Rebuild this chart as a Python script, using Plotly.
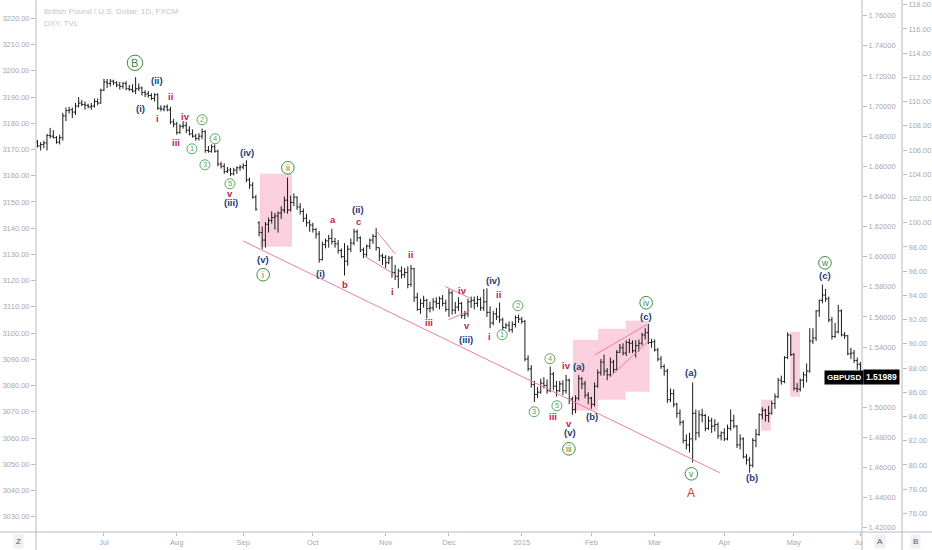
import math
from datetime import datetime, timedelta
import pandas as pd
import plotly.graph_objects as go

# ---------------- data ----------------
dates = [d.strftime("%Y-%m-%d") for d in pd.bdate_range("2014-06-02", "2015-06-01")]

opens = [
    # Jun 2014
    1.6760, 1.6735, 1.6745, 1.6755, 1.6805, 1.6800, 1.6790, 1.6760, 1.6790, 1.6935, 1.6970,
    1.6975, 1.6960, 1.7000, 1.7020, 1.7010, 1.7005, 1.6995, 1.7000, 1.7030, 1.7020,
    # Jul
    1.7105, 1.7160, 1.7150, 1.7165, 1.7155, 1.7140, 1.7130, 1.7150, 1.7115, 1.7110, 1.7100,
    1.7115, 1.7120, 1.7090, 1.7080, 1.7070, 1.7050, 1.7075, 1.6985, 1.6980, 1.6995, 1.6975, 1.6895,
    # Aug
    1.6880, 1.6825, 1.6865, 1.6870, 1.6840, 1.6815, 1.6800, 1.6785, 1.6800, 1.6830, 1.6705,
    1.6700, 1.6730, 1.6700, 1.6615, 1.6600, 1.6565, 1.6575, 1.6550, 1.6575, 1.6590,
    # Sep
    1.6595, 1.6605, 1.6510, 1.6475, 1.6395, 1.6225, 1.6160, 1.6110, 1.6215, 1.6240, 1.6260,
    1.6270, 1.6290, 1.6310, 1.6375, 1.6310, 1.6360, 1.6395, 1.6330, 1.6300, 1.6255, 1.6225,
    # Oct
    1.6210, 1.6180, 1.6150, 1.5980, 1.6080, 1.6105, 1.6120, 1.6100, 1.6085, 1.6040, 1.6000,
    1.5970, 1.6050, 1.6090, 1.6165, 1.6125, 1.6045, 1.6015, 1.6070, 1.6110, 1.6135, 1.6060, 1.6005,
    # Nov
    1.5995, 1.5960, 1.5990, 1.5895, 1.5870, 1.5905, 1.5880, 1.5895, 1.5815, 1.5920,
    1.5730, 1.5650, 1.5690, 1.5710, 1.5655, 1.5660, 1.5700, 1.5690, 1.5720, 1.5690,
    # Dec
    1.5650, 1.5760, 1.5645, 1.5665, 1.5690, 1.5610, 1.5620, 1.5700, 1.5710, 1.5690, 1.5715,
    1.5660, 1.5700, 1.5630, 1.5560, 1.5620, 1.5600, 1.5580, 1.5530, 1.5545, 1.5515, 1.5550, 1.5595,
    # Jan 2015
    1.5585, 1.5570, 1.5320, 1.5255, 1.5150, 1.5085, 1.5100, 1.5160, 1.5145, 1.5110, 1.5220,
    1.5140, 1.5110, 1.5155, 1.5110, 1.5180, 1.5055, 1.4985, 1.5060, 1.5190, 1.5155, 1.5080,
    # Feb
    1.5060, 1.5020, 1.5140, 1.5230, 1.5300, 1.5240, 1.5215, 1.5300, 1.5250, 1.5365,
    1.5395, 1.5360, 1.5430, 1.5425, 1.5375, 1.5410, 1.5425, 1.5480, 1.5495, 1.5430,
    # Mar
    1.5435, 1.5380, 1.5320, 1.5270, 1.5240, 1.5050, 1.5090, 1.5020, 1.4960, 1.4900, 1.4780,
    1.4750, 1.4790, 1.4960, 1.4830, 1.4950, 1.4945, 1.4860, 1.4910, 1.4875, 1.4885, 1.4810,
    # Apr
    1.4830, 1.4790, 1.4860, 1.4910, 1.4875, 1.4750, 1.4790, 1.4670, 1.4650, 1.4615, 1.4780,
    1.4820, 1.4950, 1.4980, 1.4945, 1.4960, 1.5025, 1.5070, 1.5180, 1.5170, 1.5330, 1.5480,
    # May + Jun 1
    1.5350, 1.5125, 1.5120, 1.5180, 1.5215, 1.5240, 1.5440, 1.5460, 1.5640, 1.5710, 1.5745,
    1.5720, 1.5580, 1.5470, 1.5500, 1.5640, 1.5480, 1.5475, 1.5355, 1.5360, 1.5310, 1.5285,
]

highs = [
    1.6775, 1.6760, 1.6770, 1.6815, 1.6855, 1.6840, 1.6800, 1.6810, 1.6955, 1.6990, 1.6995,
    1.6990, 1.7020, 1.7060, 1.7040, 1.7030, 1.7015, 1.7020, 1.7050, 1.7050, 1.7115,
    1.7180, 1.7180, 1.7180, 1.7175, 1.7165, 1.7160, 1.7160, 1.7165, 1.7140, 1.7145, 1.7192,
    1.7150, 1.7130, 1.7105, 1.7100, 1.7085, 1.7085, 1.7085, 1.7005, 1.7005, 1.7010, 1.6995, 1.6915,
    1.6895, 1.6880, 1.6900, 1.6895, 1.6865, 1.6845, 1.6815, 1.6820, 1.6850, 1.6840, 1.6735,
    1.6745, 1.6745, 1.6710, 1.6630, 1.6620, 1.6595, 1.6590, 1.6590, 1.6600, 1.6610,
    1.6620, 1.6640, 1.6525, 1.6495, 1.6410, 1.6235, 1.6200, 1.6230, 1.6260, 1.6300, 1.6290,
    1.6300, 1.6335, 1.6400, 1.6525, 1.6405, 1.6420, 1.6400, 1.6355, 1.6320, 1.6285, 1.6245,
    1.6225, 1.6190, 1.6170, 1.6100, 1.6120, 1.6145, 1.6185, 1.6125, 1.6110, 1.6055, 1.6090,
    1.6075, 1.6120, 1.6185, 1.6180, 1.6135, 1.6060, 1.6080, 1.6120, 1.6150, 1.6190, 1.6060, 1.6020,
    1.6010, 1.6005, 1.6005, 1.5945, 1.5920, 1.5935, 1.5925, 1.5935, 1.5945, 1.5925,
    1.5760, 1.5720, 1.5740, 1.5720, 1.5700, 1.5725, 1.5730, 1.5735, 1.5745, 1.5715,
    1.5785, 1.5775, 1.5700, 1.5730, 1.5700, 1.5640, 1.5720, 1.5735, 1.5735, 1.5740, 1.5730,
    1.5785, 1.5790, 1.5670, 1.5640, 1.5660, 1.5695, 1.5595, 1.5560, 1.5570, 1.5570, 1.5610, 1.5615,
    1.5600, 1.5580, 1.5345, 1.5280, 1.5175, 1.5135, 1.5190, 1.5200, 1.5185, 1.5270, 1.5235,
    1.5175, 1.5175, 1.5180, 1.5215, 1.5190, 1.5070, 1.5080, 1.5215, 1.5200, 1.5175, 1.5100,
    1.5070, 1.5165, 1.5250, 1.5320, 1.5350, 1.5260, 1.5330, 1.5315, 1.5380, 1.5420,
    1.5425, 1.5445, 1.5455, 1.5445, 1.5445, 1.5450, 1.5495, 1.5525, 1.5552, 1.5455,
    1.5450, 1.5395, 1.5340, 1.5285, 1.5255, 1.5125, 1.5120, 1.5030, 1.4985, 1.4915, 1.4820,
    1.4830, 1.5165, 1.4985, 1.4980, 1.4990, 1.4955, 1.4940, 1.4930, 1.4920, 1.4900, 1.4840,
    1.4860, 1.4885, 1.4985, 1.4950, 1.4880, 1.4820, 1.4800, 1.4690, 1.4670, 1.4795, 1.4855,
    1.4960, 1.5000, 1.4990, 1.5010, 1.5045, 1.5090, 1.5195, 1.5210, 1.5340, 1.5498, 1.5480,
    1.5360, 1.5160, 1.5190, 1.5235, 1.5290, 1.5525, 1.5525, 1.5645, 1.5715, 1.5815, 1.5785,
    1.5735, 1.5600, 1.5560, 1.5680, 1.5650, 1.5500, 1.5480, 1.5395, 1.5380, 1.5330, 1.5300,
]

lows = [
    1.6725, 1.6705, 1.6720, 1.6705, 1.6785, 1.6785, 1.6750, 1.6745, 1.6770, 1.6900, 1.6950,
    1.6920, 1.6940, 1.6990, 1.7000, 1.6975, 1.6985, 1.6975, 1.6990, 1.7005, 1.7015,
    1.7100, 1.7120, 1.7130, 1.7140, 1.7125, 1.7110, 1.7115, 1.7105, 1.7100, 1.7090, 1.7080,
    1.7100, 1.7070, 1.7060, 1.7055, 1.7040, 1.7030, 1.6975, 1.6965, 1.6965, 1.6965, 1.6880, 1.6860,
    1.6810, 1.6815, 1.6850, 1.6820, 1.6805, 1.6790, 1.6770, 1.6770, 1.6780, 1.6690, 1.6690,
    1.6690, 1.6690, 1.6600, 1.6585, 1.6550, 1.6555, 1.6535, 1.6540, 1.6550, 1.6570,
    1.6580, 1.6495, 1.6450, 1.6385, 1.6305, 1.6135, 1.6050, 1.6060, 1.6160, 1.6220, 1.6180,
    1.6160, 1.6250, 1.6290, 1.6285, 1.6300, 1.6335, 1.6310, 1.6280, 1.6230, 1.6200, 1.6165,
    1.6160, 1.6120, 1.5960, 1.5975, 1.6055, 1.6060, 1.6080, 1.6060, 1.6020, 1.5990, 1.5875,
    1.5940, 1.6030, 1.6075, 1.6100, 1.6030, 1.5990, 1.6000, 1.6050, 1.6085, 1.6040, 1.5970, 1.5945,
    1.5925, 1.5950, 1.5860, 1.5845, 1.5790, 1.5855, 1.5860, 1.5790, 1.5800, 1.5700,
    1.5640, 1.5620, 1.5660, 1.5590, 1.5630, 1.5640, 1.5660, 1.5650, 1.5670, 1.5635,
    1.5600, 1.5615, 1.5620, 1.5640, 1.5590, 1.5585, 1.5600, 1.5660, 1.5650, 1.5665, 1.5640,
    1.5640, 1.5600, 1.5525, 1.5545, 1.5580, 1.5560, 1.5510, 1.5520, 1.5500, 1.5495, 1.5530, 1.5560,
    1.5555, 1.5305, 1.5240, 1.5130, 1.5035, 1.5060, 1.5090, 1.5125, 1.5090, 1.5100, 1.5115,
    1.5070, 1.5100, 1.5080, 1.5090, 1.5020, 1.4950, 1.4960, 1.5045, 1.5120, 1.5060, 1.5020,
    1.4990, 1.5005, 1.5130, 1.5210, 1.5210, 1.5180, 1.5200, 1.5225, 1.5240, 1.5360,
    1.5345, 1.5340, 1.5360, 1.5360, 1.5330, 1.5370, 1.5410, 1.5450, 1.5420, 1.5395,
    1.5370, 1.5305, 1.5255, 1.5210, 1.5030, 1.5035, 1.5000, 1.4930, 1.4880, 1.4760, 1.4720,
    1.4700, 1.4633, 1.4780, 1.4800, 1.4900, 1.4840, 1.4850, 1.4830, 1.4840, 1.4790, 1.4780,
    1.4775, 1.4780, 1.4845, 1.4860, 1.4730, 1.4720, 1.4660, 1.4620, 1.4565, 1.4600, 1.4735,
    1.4810, 1.4920, 1.4905, 1.4900, 1.4950, 1.4990, 1.5060, 1.5150, 1.5160, 1.5320, 1.5340,
    1.5110, 1.5100, 1.5105, 1.5130, 1.5165, 1.5230, 1.5420, 1.5440, 1.5600, 1.5690, 1.5700,
    1.5565, 1.5450, 1.5460, 1.5490, 1.5470, 1.5455, 1.5345, 1.5320, 1.5295, 1.5250, 1.5170,
]

closes = [
    1.6735, 1.6745, 1.6755, 1.6805, 1.6800, 1.6790, 1.6760, 1.6790, 1.6935, 1.6970, 1.6975,
    1.6960, 1.7000, 1.7020, 1.7010, 1.7005, 1.6995, 1.7000, 1.7030, 1.7020, 1.7105,
    1.7160, 1.7150, 1.7165, 1.7155, 1.7140, 1.7130, 1.7150, 1.7115, 1.7110, 1.7100, 1.7115,
    1.7120, 1.7090, 1.7080, 1.7070, 1.7050, 1.7075, 1.6985, 1.6980, 1.6995, 1.6975, 1.6895, 1.6880,
    1.6825, 1.6865, 1.6870, 1.6840, 1.6815, 1.6800, 1.6785, 1.6800, 1.6830, 1.6705, 1.6700,
    1.6730, 1.6700, 1.6615, 1.6600, 1.6565, 1.6575, 1.6550, 1.6575, 1.6590, 1.6595,
    1.6605, 1.6510, 1.6475, 1.6395, 1.6315, 1.6160, 1.6110, 1.6215, 1.6240, 1.6260, 1.6270,
    1.6290, 1.6310, 1.6375, 1.6310, 1.6360, 1.6395, 1.6330, 1.6300, 1.6255, 1.6225, 1.6210,
    1.6180, 1.6150, 1.5980, 1.6080, 1.6105, 1.6120, 1.6100, 1.6085, 1.6040, 1.6000, 1.5970,
    1.6050, 1.6090, 1.6165, 1.6125, 1.6045, 1.6015, 1.6070, 1.6110, 1.6135, 1.6060, 1.6005, 1.5995,
    1.5960, 1.5990, 1.5895, 1.5870, 1.5905, 1.5880, 1.5895, 1.5815, 1.5920, 1.5730,
    1.5650, 1.5690, 1.5710, 1.5655, 1.5660, 1.5700, 1.5690, 1.5720, 1.5690, 1.5650,
    1.5760, 1.5645, 1.5665, 1.5690, 1.5610, 1.5620, 1.5700, 1.5710, 1.5690, 1.5715, 1.5660,
    1.5700, 1.5630, 1.5560, 1.5620, 1.5600, 1.5580, 1.5530, 1.5545, 1.5515, 1.5550, 1.5595, 1.5585,
    1.5570, 1.5320, 1.5255, 1.5150, 1.5085, 1.5100, 1.5160, 1.5145, 1.5110, 1.5220, 1.5140,
    1.5110, 1.5155, 1.5110, 1.5180, 1.5055, 1.4985, 1.5060, 1.5190, 1.5155, 1.5080, 1.5060,
    1.5020, 1.5140, 1.5230, 1.5300, 1.5240, 1.5215, 1.5300, 1.5250, 1.5365, 1.5395,
    1.5360, 1.5430, 1.5425, 1.5375, 1.5410, 1.5425, 1.5480, 1.5495, 1.5430, 1.5435,
    1.5380, 1.5320, 1.5270, 1.5240, 1.5050, 1.5090, 1.5020, 1.4960, 1.4900, 1.4780, 1.4750,
    1.4790, 1.4960, 1.4830, 1.4950, 1.4945, 1.4860, 1.4910, 1.4875, 1.4885, 1.4810, 1.4830,
    1.4790, 1.4860, 1.4910, 1.4875, 1.4750, 1.4790, 1.4670, 1.4650, 1.4615, 1.4780, 1.4820,
    1.4950, 1.4980, 1.4945, 1.4960, 1.5025, 1.5070, 1.5180, 1.5170, 1.5330, 1.5480, 1.5350,
    1.5125, 1.5120, 1.5180, 1.5215, 1.5240, 1.5440, 1.5460, 1.5640, 1.5710, 1.5745, 1.5720,
    1.5580, 1.5470, 1.5500, 1.5640, 1.5480, 1.5475, 1.5355, 1.5360, 1.5310, 1.5285, 1.51989,
]

month_ticks = ["2014-07-01", "2014-08-01", "2014-09-01", "2014-10-01", "2014-11-03", "2014-12-01",
               "2015-01-01", "2015-02-02", "2015-03-02", "2015-04-01", "2015-05-01", "2015-06-01"]
month_labels = ["Jul", "Aug", "Sep", "Oct", "Nov", "Dec", "2015", "Feb", "Mar", "Apr", "May", "Jun"]

gbp_ticks = [1.42, 1.44, 1.46, 1.48, 1.50, 1.52, 1.54, 1.56, 1.58, 1.60,
             1.62, 1.64, 1.66, 1.68, 1.70, 1.72, 1.74, 1.76]
left_ticks = [3030, 3040, 3050, 3060, 3070, 3080, 3090, 3100, 3110, 3120,
              3130, 3140, 3150, 3160, 3170, 3180, 3190, 3200, 3210, 3220]
dxy_ticks = [76, 78, 80, 82, 84, 86, 88, 90, 92, 94, 96, 98, 100,
             102, 104, 106, 108, 110, 112, 114, 116, 118]

# wave labels: (text, bar index, price, kind)
wave_labels = [
    ("B", 30.8, 1.7287, "big"),
    ("(ii)", 37.8, 1.7168, "navy"), ("(i)", 32.7, 1.6982, "navy"),
    ("ii", 41.9, 1.7062, "red"), ("i", 37.8, 1.6916, "red"),
    ("iv", 46.9, 1.6929, "red"), ("iii", 43.8, 1.6756, "red"),
    ("2", 52.0, 1.6909, "num"), ("1", 48.8, 1.6716, "num"),
    ("4", 56.1, 1.6783, "num"), ("3", 52.9, 1.6610, "num"),
    ("5", 60.8, 1.6484, "num"), ("v", 60.8, 1.6418, "red"),
    ("(iii)", 61.1, 1.6358, "navy"), ("(iv)", 66.2, 1.6690, "navy"),
    ("ii", 79.1, 1.6590, "circ"), ("(v)", 71.3, 1.5979, "navy"), ("i", 71.3, 1.5880, "circ"),
    ("(i)", 89.3, 1.5886, "navy"), ("a", 93.4, 1.6245, "red"), ("b", 97.2, 1.5813, "red"),
    ("c", 101.3, 1.6232, "red"), ("(ii)", 101.3, 1.6311, "navy"),
    ("ii", 117.7, 1.6012, "red"), ("i", 112.3, 1.5767, "red"), ("iii", 123.7, 1.5561, "red"),
    ("iv", 134.4, 1.5773, "red"), ("v", 135.7, 1.5541, "red"), ("(iii)", 135.4, 1.5448, "navy"),
    ("(iv)", 143.9, 1.5840, "navy"), ("ii", 145.8, 1.5747, "red"), ("i", 142.7, 1.5468, "red"),
    ("2", 151.8, 1.5674, "num"), ("1", 146.8, 1.5481, "num"),
    ("4", 161.9, 1.5322, "num"), ("3", 156.9, 1.4970, "num"), ("5", 164.1, 1.5010, "num"),
    ("iii", 162.9, 1.4937, "red"), ("iv", 167.0, 1.5275, "red"), ("v", 167.9, 1.4890, "red"),
    ("(v)", 168.2, 1.4831, "navy"), ("iii", 167.9, 1.4724, "circ"),
    ("(a)", 171.1, 1.5269, "navy"), ("(b)", 175.2, 1.4937, "navy"),
    ("iv", 192.3, 1.5694, "circ"), ("(c)", 192.3, 1.5601, "navy"),
    ("(a)", 206.6, 1.5229, "navy"), ("v", 206.6, 1.4558, "circ"), ("A", 206.6, 1.4432, "A"),
    ("(b)", 225.8, 1.4532, "navy"),
    ("w", 248.8, 1.5959, "circ"), ("(c)", 248.8, 1.5873, "navy"),
]

# highlighted zones: (start bar, end bar, low price, high price)
zones = [
    (70.3, 80.4, 1.6066, 1.6550),
    (169.2, 177.1, 1.4977, 1.5448),
    (177.1, 185.8, 1.5050, 1.5521),
    (185.8, 193.4, 1.5103, 1.5574),
    (228.6, 231.7, 1.4844, 1.5050),
    (237.8, 240.9, 1.5070, 1.5501),
]

# trend / triangle lines: (bar0, price0, bar1, price1)
trend_lines = [
    (64.9, 1.6105, 215.6, 1.4565),
    (107.2, 1.6167, 113.0, 1.6019),
    (103.5, 1.6001, 113.0, 1.5880),
    (128.8, 1.5802, 136.6, 1.5725),
    (129.8, 1.5581, 136.6, 1.5641),
    (176.1, 1.5348, 192.5, 1.5548),
    (180.9, 1.5204, 193.0, 1.5437),
]


def at(i):
    k = int(math.floor(i))
    base = datetime.strptime(dates[k], "%Y-%m-%d")
    return (base + timedelta(days=i - k)).strftime("%Y-%m-%d %H:%M:%S")


# ---------------- figure ----------------
NAVY = "#203d78"
RED = "#c01c55"
GREEN = "#3b8c3f"
GREEN_L = "#5aa85e"
PINK_LINE = "#ea7fa2"
AXIS_C = "#b7bac2"
TICK_FONT = dict(family="Liberation Sans", size=7.5, color="#a9a9a9")
LBL_FONT = "Liberation Sans"

fig = go.Figure()
fig.add_trace(go.Ohlc(
    x=dates, open=opens, high=highs, low=lows, close=closes,
    increasing=dict(line=dict(color="#1a1a1a", width=1)),
    decreasing=dict(line=dict(color="#1a1a1a", width=1)),
    tickwidth=0.45, hoverinfo="skip", showlegend=False,
))
fig.add_trace(go.Scatter(x=[], y=[], yaxis="y2", showlegend=False))
fig.add_trace(go.Scatter(x=[], y=[], yaxis="y3", showlegend=False))

W, H = 932, 550
ML, MR, MT, MB = 36, 30, 0, 18
PW = W - ML - MR          # 866
PH = H - MT - MB          # 532
main_right = (862 - ML) / PW


def px(xp):
    return (xp - ML) / PW


def py(yp):
    return (PH - yp) / PH


shapes = []
annotations = []

for b0, b1, p0, p1 in zones:
    shapes.append(dict(type="rect", xref="x", yref="y", x0=at(b0), x1=at(b1), y0=p0, y1=p1,
                       fillcolor="rgba(243,143,177,0.42)", line=dict(width=0), layer="below"))

for b0, p0, b1, p1 in trend_lines:
    shapes.append(dict(type="line", xref="x", yref="y", x0=at(b0), y0=p0, x1=at(b1), y1=p1,
                       line=dict(color=PINK_LINE, width=1)))

for text, b, p, kind in wave_labels:
    xa = at(b)
    if kind in ("big", "circ", "num"):
        r = {"big": 7.7, "circ": 6.3, "num": 5.0}[kind]
        col = GREEN_L if kind == "num" else GREEN
        shapes.append(dict(type="circle", xref="x", yref="y", xsizemode="pixel", ysizemode="pixel",
                           xanchor=xa, yanchor=p, x0=-r, x1=r, y0=-r, y1=r,
                           fillcolor="rgba(255,255,255,0.7)", line=dict(color=col, width=1)))
        size = {"big": 11, "circ": 8.5, "num": 7.5}[kind]
        annotations.append(dict(x=xa, y=p, xref="x", yref="y", text=text, showarrow=False,
                                xanchor="center", yanchor="middle",
                                font=dict(family=LBL_FONT, size=size, color=col)))
    else:
        col = {"navy": NAVY, "red": RED, "A": "#d63a3a"}[kind]
        size = {"navy": 9.5, "red": 9.5, "A": 12}[kind]
        weight = "normal" if kind == "A" else "bold"
        annotations.append(dict(x=xa, y=p, xref="x", yref="y", text=text, showarrow=False,
                                xanchor="center", yanchor="middle",
                                font=dict(family=LBL_FONT, size=size, color=col, weight=weight)))

# mask for clipped month label, then frame lines
shapes.append(dict(type="rect", xref="paper", yref="paper", x0=px(863), x1=px(940),
                   y0=py(550), y1=py(532.5), fillcolor="white", line=dict(width=0), layer="above"))
for xl in (36, 862, 902):
    shapes.append(dict(type="line", xref="paper", yref="paper", x0=px(xl), x1=px(xl),
                       y0=py(550), y1=1, line=dict(color=AXIS_C, width=1), layer="above"))
shapes.append(dict(type="line", xref="paper", yref="paper", x0=px(0), x1=px(932),
                   y0=0, y1=0, line=dict(color=AXIS_C, width=1), layer="above"))

# header
annotations.append(dict(x=px(42), y=py(11.5), xref="paper", yref="paper", showarrow=False,
                        text="British Pound / U.S. Dollar, 1D, FXCM", xanchor="left", yanchor="middle",
                        font=dict(family=LBL_FONT, size=8, color="#c6c6c6")))
annotations.append(dict(x=px(42), y=py(23.5), xref="paper", yref="paper", showarrow=False,
                        text="DXY, TVL", xanchor="left", yanchor="middle",
                        font=dict(family=LBL_FONT, size=8, color="#c6c6c6")))

# last price tags
annotations.append(dict(x=px(844), y=closes[-1], xref="paper", yref="y", showarrow=False,
                        text="GBPUSD", xanchor="center", yanchor="middle", bgcolor="#000000",
                        borderpad=2, font=dict(family=LBL_FONT, size=8, color="white", weight="bold")))
annotations.append(dict(x=px(881), y=closes[-1], xref="paper", yref="y", showarrow=False,
                        text=f"{closes[-1]:.5f}", xanchor="center", yanchor="middle", bgcolor="#000000",
                        borderpad=2, font=dict(family=LBL_FONT, size=8.5, color="white", weight="bold")))

# corner buttons
for t, xp in (("Z", 18), ("A", 880), ("B", 915)):
    annotations.append(dict(x=px(xp), y=py(541), xref="paper", yref="paper", showarrow=False,
                            text=t, xanchor="center", yanchor="middle", bgcolor="#eef0f3",
                            borderpad=2, font=dict(family=LBL_FONT, size=8, color="#555555")))

axis_common = dict(showgrid=False, zeroline=False, showline=False, ticks="outside", ticklen=4,
                   tickcolor=AXIS_C, tickfont=TICK_FONT)

fig.update_layout(
    width=W, height=H,
    margin=dict(l=ML, r=MR, t=MT, b=MB),
    paper_bgcolor="white", plot_bgcolor="white",
    hovermode=False, showlegend=False,
    xaxis=dict(type="date", domain=[0, main_right],
               range=["2014-05-30 12:40:00", at(260.5)],
               rangebreaks=[dict(bounds=["sat", "mon"])],
               rangeslider=dict(visible=False),
               tickvals=month_ticks, ticktext=month_labels,
               showgrid=False, zeroline=False, showline=False,
               ticks="outside", ticklen=3, tickcolor=AXIS_C, tickfont=TICK_FONT),
    yaxis=dict(side="right", anchor="x", range=[1.41717, 1.77042],
               tickvals=gbp_ticks, tickformat=".5f", **axis_common),
    yaxis2=dict(side="left", anchor="x", overlaying="y", range=[3024.17, 3226.98],
                tickvals=left_ticks, tickformat=".2f", **axis_common),
    yaxis3=dict(side="right", anchor="free", position=1.0, overlaying="y", range=[74.46, 118.39],
                tickvals=dxy_ticks, tickformat=".2f", **axis_common),
    shapes=shapes,
    annotations=annotations,
)

fig.write_html(
    "out.html",
    config={"displayModeBar": False, "staticPlot": True},
    post_script="document.body.style.margin='0';document.body.style.padding='0';"
                "document.body.style.overflow='hidden';",
)
